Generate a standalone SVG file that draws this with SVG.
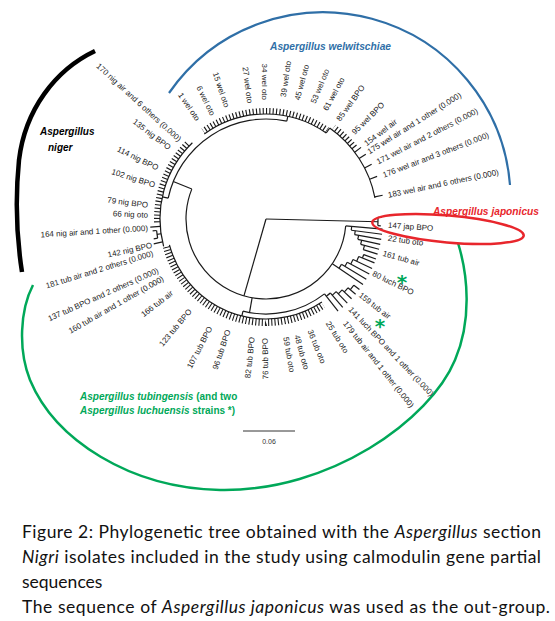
<svg xmlns="http://www.w3.org/2000/svg" width="555" height="621" viewBox="0 0 555 621">
<style>
.lb{font-family:"Liberation Sans",Arial,sans-serif;font-size:8px;fill:#222}
.le{text-anchor:end}
.grp{font-family:"Liberation Sans",Arial,sans-serif;font-size:10px;font-weight:bold}
.it{font-style:italic}
.cap{font-family:Lato,"Liberation Sans",sans-serif;font-size:17.5px;fill:#111}
.tk{fill:none;stroke:#1a1a1a}
.ast{font-family:"DejaVu Sans",sans-serif;font-size:20px;font-weight:bold;fill:#00a859;text-anchor:middle}
</style>
<defs>
<mask id="mN" maskUnits="userSpaceOnUse" x="-300" y="-300" width="600" height="600"><circle r="109" fill="none" stroke="#fff" stroke-width="12" pathLength="360" stroke-dasharray="46.5 400" transform="rotate(177.8)"/></mask>
<mask id="mW1" maskUnits="userSpaceOnUse" x="-300" y="-300" width="600" height="600"><circle r="108" fill="none" stroke="#fff" stroke-width="12" pathLength="360" stroke-dasharray="70 400" transform="rotate(234.5)"/></mask>
<mask id="mW2" maskUnits="userSpaceOnUse" x="-300" y="-300" width="600" height="600"><circle r="114" fill="none" stroke="#fff" stroke-width="12" pathLength="360" stroke-dasharray="15 400" transform="rotate(306.5)"/></mask>
<mask id="mT" maskUnits="userSpaceOnUse" x="-300" y="-300" width="600" height="600"><circle r="103.5" fill="none" stroke="#fff" stroke-width="12" pathLength="360" stroke-dasharray="108 400" transform="rotate(56.5)"/></mask>
</defs>
<rect width="555" height="621" fill="#fff"/>

<!-- clade brackets -->
<g id="clade-niger">
<path d="M95,51 C55,70 25,110 19,160 C15,200 17,240 22,272" fill="none" stroke="#000" stroke-width="4.5"/>
<text class="grp it" x="40" y="135" fill="#000" font-size="10.5">Aspergillus</text>
<text class="grp it" x="48" y="151" fill="#000" font-size="10.5">niger</text>
</g>
<g id="clade-welwitschiae">
<path d="M169,93 A187.5,187.5 0 0 1 510,185" fill="none" stroke="#2f6fa7" stroke-width="2.2"/>
<text class="grp it" x="270" y="50" fill="#2f6fa7" textLength="121" lengthAdjust="spacingAndGlyphs">Aspergillus welwitschiae</text>
</g>
<g id="clade-tubingensis">
<path d="M458,243 C468,275 472,320 455,360 C430,420 330,492 220,490 C130,488 55,440 30,380 C18,350 20,310 33,285" fill="none" stroke="#00a859" stroke-width="2.5"/>
<text class="grp" x="80" y="400" fill="#00a859"><tspan class="it">Aspergillus tubingensis</tspan> (and two</text>
<text class="grp" x="80" y="414" fill="#00a859"><tspan class="it">Aspergillus luchuensis</tspan> strains *)</text>
<text class="ast" x="402" y="289">*</text>
<text class="ast" x="380" y="333">*</text>
</g>

<!-- tree branches -->
<g id="connectors" transform="translate(266,219)" fill="none" stroke="#1a1a1a" stroke-width="1.2">
<line x1="0" x2="112" transform="rotate(1.4)"/>
<line x1="0" x2="80" transform="rotate(106)"/>
<circle r="112" pathLength="360" stroke-dasharray="4.2 400" transform="rotate(-0.8)"/>
<line x1="112" x2="116" transform="rotate(-0.8)"/>
<line x1="112" x2="115" transform="rotate(3.4)"/>
<circle r="80" pathLength="360" stroke-dasharray="197 400" transform="rotate(5)"/>
<line x1="80" x2="100" transform="rotate(202)"/>
<circle r="100" pathLength="360" stroke-dasharray="90 400" transform="rotate(192)"/>
<line x1="100" x2="106" transform="rotate(192)"/>
<line x1="100" x2="105" transform="rotate(282)"/>
<circle r="106" pathLength="360" stroke-dasharray="61 400" transform="rotate(165)"/>
<circle r="105" pathLength="360" stroke-dasharray="71 400" transform="rotate(234)"/>
<line x1="105" x2="111" transform="rotate(305)"/>
<circle r="111" pathLength="360" stroke-dasharray="44 400" transform="rotate(305)"/>
<line x1="80" x2="95" transform="rotate(100)"/>
<circle r="95" pathLength="360" stroke-dasharray="52 400" transform="rotate(52)"/>
<line x1="95" x2="100" transform="rotate(104)"/>
<circle r="100" pathLength="360" stroke-dasharray="109 400" transform="rotate(56)"/>
<!-- niger extras -->
<line x1="106" x2="116" transform="rotate(176)"/>
<line x1="106" x2="110" transform="rotate(172)"/>
<circle r="110" pathLength="360" stroke-dasharray="4 400" transform="rotate(170)"/>
<line x1="110" x2="114" transform="rotate(170)"/>
<line x1="110" x2="114" transform="rotate(174)"/>
<line x1="106" x2="115" transform="rotate(167.5)"/>
<!-- welwitschiae long tips -->
<line x1="111" x2="119" transform="rotate(323)"/>
<line x1="111" x2="119" transform="rotate(327)"/>
<line x1="111" x2="119" transform="rotate(332.6)"/>
<line x1="111" x2="119" transform="rotate(339)"/>
<line x1="111" x2="119" transform="rotate(348.5)"/>
<!-- ladder A -->
<line x1="80" x2="117" transform="rotate(5)"/>
<circle r="86" pathLength="360" stroke-dasharray="2.5 400" transform="rotate(5)"/>
<line x1="86" x2="117" transform="rotate(7.5)"/>
<circle r="90" pathLength="360" stroke-dasharray="2.5 400" transform="rotate(7.5)"/>
<line x1="90" x2="117" transform="rotate(10)"/>
<circle r="94" pathLength="360" stroke-dasharray="2.5 400" transform="rotate(10)"/>
<line x1="94" x2="117" transform="rotate(12.5)"/>
<circle r="98" pathLength="360" stroke-dasharray="2.5 400" transform="rotate(12.5)"/>
<line x1="98" x2="117" transform="rotate(15)"/>
<circle r="102" pathLength="360" stroke-dasharray="2.5 400" transform="rotate(15)"/>
<line x1="102" x2="117" transform="rotate(17.5)"/>
<!-- ladder B2 -->
<line x1="80" x2="117" transform="rotate(34)"/>
<circle r="88" pathLength="360" stroke-dasharray="3 400" transform="rotate(31)"/>
<line x1="88" x2="117" transform="rotate(31)"/>
<circle r="92" pathLength="360" stroke-dasharray="3 400" transform="rotate(28)"/>
<line x1="92" x2="117" transform="rotate(28)"/>
<circle r="96" pathLength="360" stroke-dasharray="3 400" transform="rotate(25)"/>
<line x1="96" x2="117" transform="rotate(25)"/>
<circle r="100" pathLength="360" stroke-dasharray="3 400" transform="rotate(22)"/>
<line x1="100" x2="117" transform="rotate(22)"/>
<circle r="104" pathLength="360" stroke-dasharray="2 400" transform="rotate(20)"/>
<line x1="104" x2="117" transform="rotate(20)"/>
<!-- ladder B1 -->
<line x1="95" x2="117" transform="rotate(52)"/>
<circle r="98" pathLength="360" stroke-dasharray="3 400" transform="rotate(49)"/>
<line x1="98" x2="117" transform="rotate(49)"/>
<circle r="101" pathLength="360" stroke-dasharray="3 400" transform="rotate(46)"/>
<line x1="101" x2="117" transform="rotate(46)"/>
<circle r="104" pathLength="360" stroke-dasharray="3 400" transform="rotate(43)"/>
<line x1="104" x2="117" transform="rotate(43)"/>
<circle r="107" pathLength="360" stroke-dasharray="3 400" transform="rotate(40)"/>
<line x1="107" x2="117" transform="rotate(40)"/>
<circle r="110" pathLength="360" stroke-dasharray="3 400" transform="rotate(37)"/>
<line x1="110" x2="117" transform="rotate(37)"/>
<!-- comb ticks -->
<g mask="url(#mN)"><circle class="tk" r="109" stroke-width="6" pathLength="360" stroke-dasharray="0.6 1.2"/></g>
<g mask="url(#mW1)"><circle class="tk" r="108" stroke-width="6" pathLength="360" stroke-dasharray="0.6 1.2"/></g>
<g mask="url(#mW2)"><circle class="tk" r="114" stroke-width="6" pathLength="360" stroke-dasharray="0.6 1.2"/></g>
<g mask="url(#mT)"><circle class="tk" r="103.5" stroke-width="7" pathLength="360" stroke-dasharray="0.6 1.2"/></g>
</g>

<!-- leaf labels -->
<g id="labels-wel" class="lb" xml:space="preserve">
<text class="le" transform="translate(198,120) rotate(56.2)" dy="0.35em">1 wel oto</text>
<text class="le" transform="translate(213,115) rotate(63.7)" dy="0.35em">6 wel oto</text>
<text class="le" transform="translate(227,107) rotate(71.4)" dy="0.35em">15 wel oto</text>
<text class="le" transform="translate(250,103) rotate(82.7)" dy="0.35em">27 wel oto</text>
<text class="le" transform="translate(265,100) rotate(90)" dy="0.35em">34 wel oto</text>
<text transform="translate(283,97) rotate(-81.7)" dy="0.35em">39 wel oto</text>
<text transform="translate(297,100) rotate(-75.1)" dy="0.35em">45 wel oto</text>
<text transform="translate(313,103) rotate(-67.7)" dy="0.35em">53 wel oto</text>
<text transform="translate(325,110) rotate(-61.4)" dy="0.35em">61 wel oto</text>
<text transform="translate(338,120) rotate(-53.9)" dy="0.35em">85 wel BPO</text>
<text transform="translate(353,133) rotate(-44.7)" dy="0.35em">95 wel BPO</text>
<text transform="translate(365,144) rotate(-37)" dy="0.35em">154 wel air</text>
<text transform="translate(368,152) rotate(-32)" dy="0.35em">175 wel air  and 1 other (0.000)</text>
<text transform="translate(377,162) rotate(-27.3)" dy="0.35em">171 wel air  and 2 others (0.000)</text>
<text transform="translate(383,175) rotate(-20.9)" dy="0.35em">176 wel air  and 3 others (0.000)</text>
<text transform="translate(388,195) rotate(-11.8)" dy="0.35em">183 wel air  and 6 others (0.000)</text>
</g>
<g id="labels-jap" class="lb">
<text transform="translate(388,225) rotate(4)" dy="0.35em">147 jap BPO</text>
</g>
<g id="labels-tub" class="lb" xml:space="preserve">
<text transform="translate(388,238) rotate(8)" dy="0.35em">22 tub oto</text>
<text transform="translate(383,253) rotate(15.6)" dy="0.35em">161 tub air</text>
<text transform="translate(373,273) rotate(26)" dy="0.35em">80 luch BPO</text>
<text transform="translate(360,294) rotate(37.9)" dy="0.35em">159 tub air</text>
<text transform="translate(350,308) rotate(46.5)" dy="0.35em">141 luch BPO  and 1 other (0.000)</text>
<text transform="translate(345,322) rotate(51.5)" dy="0.35em">179 tub air  and 1 other (0.000)</text>
<text transform="translate(328,322) rotate(58.3)" dy="0.35em">25 tub oto</text>
<text transform="translate(310,330) rotate(67.8)" dy="0.35em">36 tub oto</text>
<text transform="translate(297,335) rotate(74.4)" dy="0.35em">48 tub oto</text>
<text transform="translate(286,337) rotate(79.8)" dy="0.35em">59 tub oto</text>
<text class="le" transform="translate(265,338) rotate(-90.5)" dy="0.35em">76 tub BPO</text>
<text class="le" transform="translate(252,337) rotate(-83.7)" dy="0.35em">82 tub BPO</text>
<text class="le" transform="translate(228,330) rotate(-71.4)" dy="0.35em">96 tub BPO</text>
<text class="le" transform="translate(210,327) rotate(-62.8)" dy="0.35em">107 tub BPO</text>
<text class="le" transform="translate(190,310) rotate(-50.2)" dy="0.35em">123 tub BPO</text>
<text class="le" transform="translate(172,292) rotate(-37.7)" dy="0.35em">166 tub air</text>
<text class="le" transform="translate(163,278) rotate(-29.6)" dy="0.35em">160 tub air  and 1 other (0.000)</text>
<text class="le" transform="translate(158,270) rotate(-24)" dy="0.35em">137 tub BPO  and 2 others (0.000)</text>
<text class="le" transform="translate(153,253) rotate(-17)" dy="0.35em">181 tub air  and 2 others (0.000)</text>
</g>
<g id="labels-nig" class="lb" xml:space="preserve">
<text class="le" transform="translate(152,245) rotate(-12.5)" dy="0.35em">142 nig BPO</text>
<text class="le" transform="translate(148,228) rotate(-3.5)" dy="0.35em">164 nig air  and 1 other (0.000)</text>
<text class="le" transform="translate(148,215) rotate(2.4)" dy="0.35em">66 nig oto</text>
<text class="le" transform="translate(148,205) rotate(7.3)" dy="0.35em">79 nig BPO</text>
<text class="le" transform="translate(155,185) rotate(17.6)" dy="0.35em">102 nig BPO</text>
<text class="le" transform="translate(158,168) rotate(25.9)" dy="0.35em">114 nig BPO</text>
<text class="le" transform="translate(170,148) rotate(37.2)" dy="0.35em">135 nig BPO</text>
<text class="le" transform="translate(180,140) rotate(42.5)" dy="0.35em">170 nig air  and 6 others (0.000)</text>
</g>

<g id="clade-japonicus">
<ellipse cx="448" cy="229" rx="76" ry="13.5" transform="rotate(5 448 229)" fill="none" stroke="#e8262c" stroke-width="2.5"/>
<text class="grp it" x="433" y="215" fill="#e8262c" textLength="106" lengthAdjust="spacingAndGlyphs">Aspergillus japonicus</text>
</g>

<g id="scale-bar">
<line x1="243" y1="431" x2="295" y2="431" stroke="#333" stroke-width="1"/>
<text x="269" y="444" font-family="Liberation Sans,Arial,sans-serif" font-size="7" fill="#333" text-anchor="middle">0.06</text>
</g>

<g id="caption">
<text class="cap" x="22" y="538" textLength="519" lengthAdjust="spacing">Figure 2: Phylogenetic tree obtained with the <tspan class="it">Aspergillus</tspan> section</text>
<text class="cap" x="22" y="563" textLength="519" lengthAdjust="spacing"><tspan class="it">Nigri</tspan> isolates included in the study using calmodulin gene partial</text>
<text class="cap" x="22" y="588">sequences</text>
<text class="cap" x="22" y="613" textLength="528" lengthAdjust="spacing">The sequence of <tspan class="it">Aspergillus japonicus</tspan> was used as the out-group.</text>
</g>
</svg>
